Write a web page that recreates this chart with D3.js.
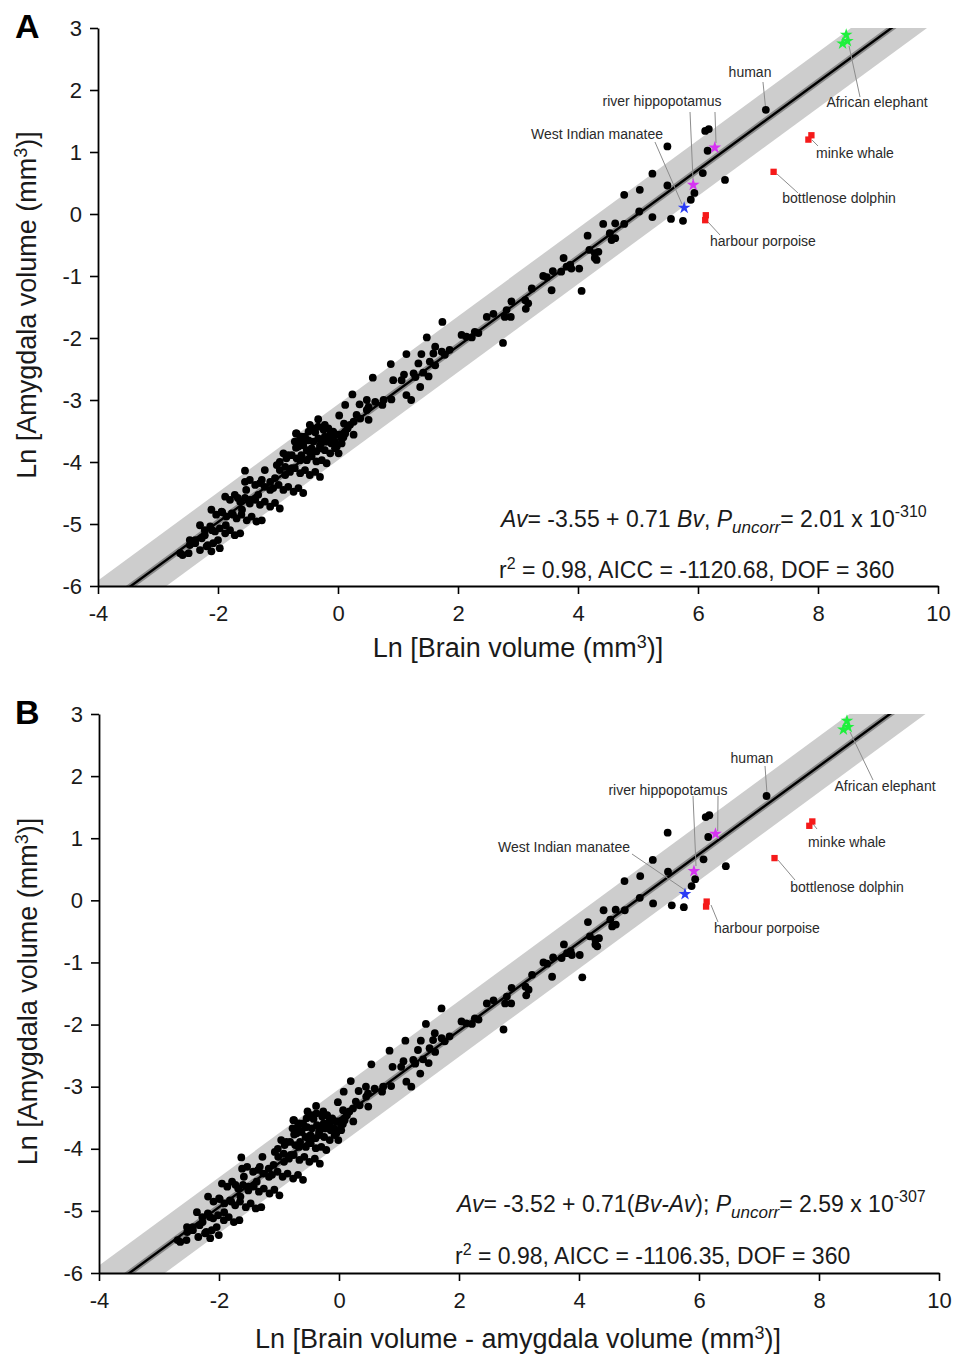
<!DOCTYPE html>
<html>
<head>
<meta charset="utf-8">
<script src="https://cdn.jsdelivr.net/npm/d3@7"></script>
<style>
  body { margin: 0; background: #fff; }
  text { font-family: "Liberation Sans", Arial, Helvetica, sans-serif; }
</style>
</head>
<body>
<div id="chart"></div>
<script>
// ln brain volume (Bv) and ln amygdala volume (Av), mm3, one entry per species
var brainLn = [
  7.13, 6.12, 6.18, 5.49, 6.16, 6.08, 6.45, 5.24, 5.49, 5.94, 5.88, 5.03, 4.77, 5.02, 5.24, 5.55, 5.75,
  4.42, 4.62, 4.77, 4.16, 4.53, 4.62, 4.56, 3.76, 4.19, 4.28, 4.34, 4.28, 4.31,
  4.06, 4.02, 3.87, 3.89, 3.81, 3.72, 3.56, 3.58, 3.42, 3.48, 3.23, 3.12, 3.17, 3.13,
  2.89, 2.81, 2.78, 2.88, 2.59, 2.48, 2.75, 1.74, 1.48, 2.06, 2.14, 2.23, 2.28, 2.34,
  1.62, 1.59, 1.73, 1.78, 1.86, 1.14, 1.39, 1.34, 1.53, 1.62, 1.51, 0.88, 1.10, 1.26, 1.29, 1.42,
  0.92, 1.06, 1.37, 0.58, 1.14, 1.22, 0.89, 0.76, 0.74, 0.48, 0.62, 0.24, 0.36, 0.51, 0.48, 0.12,
  0.02, 0.31, 0.37, 0.51, -0.33, 0.10, 0.20, 0.26, 0.16, 0.12, 0.26,
  -0.69, -0.61, -0.49, -0.22, -0.13, 0.03, 0.09, -0.63, -0.52, -0.27, -0.08,
  -0.47, -0.41, -0.33, -0.24, -0.16, -0.08, -0.02, 0.06, 0.12,
  -0.70, -0.63, -0.55, -0.49, -0.41, -0.33, -0.19, -0.11, -0.02, 0.06, -0.05,
  -0.72, -0.66, -0.58, -0.52, -0.44, -0.36, -0.30, -0.22, -0.13, -0.05, 0.01,
  -0.91, -0.86, -0.77, -0.69, -0.61, -0.52, -0.44, -0.36, -0.27, -0.19,
  -1.55, -1.02, -0.97, -0.88, -0.80, -0.72, -0.63, -0.55, -0.47, -0.38, -0.30,
  -1.55, -1.47, -1.38, -1.30, -1.22, -1.13, -1.08, -0.99, -0.91, -0.83, -0.74, -0.66, -0.58,
  -1.88, -1.80, -1.72, -1.63, -1.55, -1.47, -1.38, -1.30, -1.22, -1.13, -1.05, -0.97,
  -2.11, -2.03, -1.94, -1.86, -1.77, -1.69, -1.61, -1.52, -1.44, -1.36, -1.27, -1.63,
  -2.30, -2.22, -2.13, -2.05, -1.97, -1.88, -1.80, -1.72,
  -2.47, -2.38, -2.27, -2.19, -2.08, -1.97, -2.11, -2.59, -2.49,
  -2.63, -2.47, -2.30, -2.22, -2.10, -2.00, -1.87, -1.75, -1.60, -1.47, -1.33, -1.22, -1.13,
  -1.05, -0.88, -0.77, -0.63, -0.47, -0.30, -0.13, -0.22, -0.38, -0.70, -0.83, -0.97, -1.27,
  -1.53, -1.67, -1.93, -2.17, -2.38
];
var amygLn = [
  1.68, 1.34, 1.37, 1.09, 1.02, 0.66, 0.55, 0.65, 0.46, 0.34, 0.23, 0.39, 0.31, 0.04, -0.05, -0.08, -0.11,
  -0.16, -0.15, -0.16, -0.35, -0.31, -0.39, -0.42, -0.71, -0.58, -0.63, -0.61, -0.71, -0.74,
  -1.24, -0.88, -0.82, -0.88, -0.85, -0.93, -1.23, -0.92, -1.00, -1.02, -1.20, -1.39, -1.44, -1.53,
  -1.41, -1.55, -1.66, -1.66, -1.61, -1.66, -2.08, -1.74, -1.99, -1.95, -1.98, -1.99, -1.90, -1.92,
  -2.14, -2.25, -2.22, -2.27, -2.19, -2.26, -2.26, -2.41, -2.38, -2.44, -2.62, -2.42, -2.59, -2.57, -2.63, -2.56,
  -2.68, -2.68, -2.79, -2.64, -2.92, -3.00, -2.99, -3.00, -3.08, -3.00, -3.03, -2.91, -3.07, -3.11, -3.16, -3.08,
  -3.25, -3.24, -3.30, -3.32, -3.31, -3.38, -3.40, -3.35, -3.46, -3.51, -3.56,
  -3.54, -3.59, -3.51, -3.59, -3.56, -3.56, -3.60, -3.69, -3.65, -3.67, -3.70,
  -3.40, -3.46, -3.43, -3.48, -3.46, -3.51, -3.56, -3.62, -3.54,
  -3.54, -3.62, -3.59, -3.65, -3.67, -3.62, -3.67, -3.70, -3.75, -3.70, -3.67,
  -3.67, -3.75, -3.73, -3.81, -3.78, -3.83, -3.78, -3.81, -3.86, -3.78, -3.86,
  -3.86, -3.94, -3.89, -3.94, -3.89, -3.97, -3.91, -3.99, -3.97, -4.02,
  -4.14, -4.05, -4.13, -4.08, -4.16, -4.10, -4.18, -4.13, -4.21, -4.16, -4.24,
  -4.32, -4.29, -4.37, -4.34, -4.40, -4.32, -4.42, -4.37, -4.45, -4.40, -4.48, -4.42, -4.50,
  -4.56, -4.61, -4.53, -4.64, -4.58, -4.67, -4.61, -4.69, -4.64, -4.72, -4.66, -4.75,
  -4.77, -4.85, -4.80, -4.88, -4.83, -4.91, -4.85, -4.94, -4.88, -4.96, -4.94, -5.15,
  -5.02, -5.10, -5.04, -5.12, -5.07, -5.15, -5.10, -5.18,
  -5.26, -5.31, -5.23, -5.36, -5.31, -5.39, -5.44, -5.50, -5.47,
  -5.47, -5.34, -5.42, -5.18, -5.10, -5.26, -5.02, -4.85, -4.77, -4.61, -4.53, -4.13, -4.45,
  -4.26, -4.21, -4.10, -3.97, -3.84, -3.73, -3.61, -3.40, -3.52, -3.77, -3.89, -4.00, -4.29,
  -4.45, -4.58, -4.81, -5.34, -5.26
];

// highlighted species (stars = terrestrial/sirenian outliers checked, squares = cetaceans)
var specialSpecies = ["African elephant", "African elephant", "African elephant",
  "river hippopotamus", "river hippopotamus", "West Indian manatee",
  "minke whale", "minke whale", "bottlenose dolphin", "harbour porpoise", "harbour porpoise"];
var specialBrain = [8.47, 8.49, 8.41, 6.28, 5.92, 5.77, 7.89, 7.84, 7.26, 6.13, 6.12];
var specialAmyg  = [2.89, 2.79, 2.75, 1.07, 0.47, 0.10, 1.27, 1.20, 0.68, -0.02, -0.10];
var speciesColor = {
  "African elephant": "#1ef03c", "river hippopotamus": "#d633f2", "West Indian manatee": "#2a3cf5",
  "minke whale": "#f51a1a", "bottlenose dolphin": "#f51a1a", "harbour porpoise": "#f51a1a"
};
var speciesShape = {
  "African elephant": "star", "river hippopotamus": "star", "West Indian manatee": "star",
  "minke whale": "square", "bottlenose dolphin": "square", "harbour porpoise": "square"
};

var xTicks = [-4, -2, 0, 2, 4, 6, 8, 10];
var yTicks = [3, 2, 1, 0, -1, -2, -3, -4, -5, -6];

// regression fits (intercept, slope) and interval half widths in ln units
var fitIntercept = [-3.55, -3.52];
var fitSlope = [0.71, 0.71];
var bandAbove = 0.48, bandBelow = 0.42, ciHalf = 0.06;

// label text, label position and leader lines, in data units, per panel
var labelsA = [
  { t: "human", x: 6.867, y: 2.21, lines: [[7.083, 2.129, 7.125, 1.726]] },
  { t: "African elephant", x: 8.983, y: 1.726, lines: [[8.70, 1.887, 8.517, 2.71]] },
  { t: "river hippopotamus", x: 5.40, y: 1.742, lines: [[5.867, 1.645, 5.917, 0.548], [6.283, 1.645, 6.30, 1.145]] },
  { t: "West Indian manatee", x: 4.317, y: 1.21, lines: [[5.283, 1.161, 5.733, 0.161]] },
  { t: "minke whale", x: 8.617, y: 0.903, lines: [[8.0, 1.097, 7.90, 1.194]] },
  { t: "bottlenose dolphin", x: 8.35, y: 0.177, lines: [[7.667, 0.339, 7.317, 0.645]] },
  { t: "harbour porpoise", x: 7.083, y: -0.516, lines: [[6.367, -0.339, 6.167, -0.129]] }
];
var labelsB = [
  { t: "human", x: 6.883, y: 2.211, lines: [[7.10, 2.163, 7.133, 1.728]] },
  { t: "African elephant", x: 9.10, y: 1.76, lines: [[8.90, 1.937, 8.517, 2.71]] },
  { t: "river hippopotamus", x: 5.483, y: 1.696, lines: [[5.90, 1.68, 5.95, 0.552], [6.317, 1.68, 6.312, 1.116]] },
  { t: "West Indian manatee", x: 3.75, y: 0.778, lines: [[4.883, 0.746, 5.767, 0.166]] },
  { t: "minke whale", x: 8.467, y: 0.858, lines: [[7.967, 1.148, 7.90, 1.229]] },
  { t: "bottlenose dolphin", x: 8.467, y: 0.134, lines: [[7.60, 0.327, 7.317, 0.649]] },
  { t: "harbour porpoise", x: 7.133, y: -0.527, lines: [[6.317, -0.35, 6.20, -0.075]] }
];

var W = 955, H = 1355;
var svg = d3.select("#chart").append("svg")
  .attr("width", W).attr("height", H);

// panel B plots ln(brain - amygdala)
function restOfBrain(bv, av) { return Math.log(Math.exp(bv) - Math.exp(av)); }

var panels = [
  { key: "A", left: 98, top: 28, w: 840, h: 558, labels: labelsA, xFn: function(bv, av) { return bv; },
    xTitle: ["Ln [Brain volume (mm", ")]"], stats: ["-1120.68"], fit: 0,
    eq: [["Av", 1], ["= -3.55 + 0.71 ", 0], ["Bv", 1], [", ", 0]], p: ["2.01", "-310"],
    eqX: 403, eqY: 499, r2Y: 550, xTitleX: 420, xTitleY: 71 },
  { key: "B", left: 99, top: 714, w: 840, h: 559, labels: labelsB, xFn: restOfBrain,
    xTitle: ["Ln [Brain volume - amygdala volume (mm", ")]"], stats: ["-1106.35"], fit: 1,
    eq: [["Av", 1], ["= -3.52 + 0.71(", 0], ["Bv-Av", 1], ["); ", 0]], p: ["2.59", "-307"],
    eqX: 358, eqY: 498, r2Y: 550, xTitleX: 419, xTitleY: 75 }
];

panels.forEach(function(P, pi) {
  var g = svg.append("g").attr("transform", "translate(" + P.left + "," + P.top + ")");
  var x = d3.scaleLinear().domain([-4, 10]).range([0, P.w]);
  var y = d3.scaleLinear().domain([-6, 3]).range([P.h, 0]);
  var a = fitIntercept[P.fit], b = fitSlope[P.fit];

  var clipId = "clip" + P.key;
  g.append("clipPath").attr("id", clipId)
    .append("rect").attr("width", P.w).attr("height", P.h);

  var fitG = g.append("g").attr("clip-path", "url(#" + clipId + ")");
  var xs = [-5, 11];
  function band(up, down) {
    var pts = xs.map(function(v) { return [x(v), y(a + b * v + up)]; });
    xs.slice().reverse().forEach(function(v) { pts.push([x(v), y(a + b * v - down)]); });
    return "M" + pts.join("L") + "Z";
  }
  fitG.append("path").attr("d", band(bandAbove, bandBelow)).attr("fill", "#cdcdcd");
  fitG.append("path").attr("d", band(ciHalf, ciHalf)).attr("fill", "#8a8a8a");
  fitG.append("line")
    .attr("x1", x(xs[0])).attr("y1", y(a + b * xs[0]))
    .attr("x2", x(xs[1])).attr("y2", y(a + b * xs[1]))
    .attr("stroke", "#000").attr("stroke-width", 2.4);

  // axes
  var xAxis = g.append("g").attr("transform", "translate(0," + P.h + ")")
    .call(d3.axisBottom(x).tickValues(xTicks).tickSize(8).tickPadding(11).tickSizeOuter(0)
      .tickFormat(function(d) { return String(d); }));
  var yAxis = g.append("g")
    .call(d3.axisLeft(y).tickValues(yTicks).tickSize(8).tickPadding(8).tickSizeOuter(0)
      .tickFormat(function(d) { return String(d); }));
  [xAxis, yAxis].forEach(function(ax) {
    ax.select(".domain").attr("stroke", "#000").attr("stroke-width", 1.8);
    ax.selectAll(".tick line").attr("stroke", "#000").attr("stroke-width", 1.6);
    ax.selectAll(".tick text").attr("font-size", 22).attr("fill", "#1a1a1a")
      .attr("font-family", "Liberation Sans, Arial, sans-serif");
  });

  // leader lines
  P.labels.forEach(function(L) {
    L.lines.forEach(function(s) {
      g.append("line")
        .attr("x1", x(s[0])).attr("y1", y(s[1])).attr("x2", x(s[2])).attr("y2", y(s[3]))
        .attr("stroke", "#8c8c8c").attr("stroke-width", 1);
    });
  });

  // species points
  g.append("g").selectAll("circle")
    .data(d3.range(brainLn.length))
    .enter().append("circle")
    .attr("cx", function(i) { return x(P.xFn(brainLn[i], amygLn[i])); })
    .attr("cy", function(i) { return y(amygLn[i]); })
    .attr("r", 3.9)
    .attr("fill", "#000");

  var star = d3.symbol().type(d3.symbolStar).size(50);
  var square = d3.symbol().type(d3.symbolSquare).size(40);
  g.append("g").selectAll("path")
    .data(d3.range(specialSpecies.length))
    .enter().append("path")
    .attr("transform", function(i) {
      return "translate(" + x(P.xFn(specialBrain[i], specialAmyg[i])) + "," + y(specialAmyg[i]) + ")";
    })
    .attr("d", function(i) { return speciesShape[specialSpecies[i]] == "star" ? star() : square(); })
    .attr("fill", function(i) { return speciesColor[specialSpecies[i]]; });

  // labels
  P.labels.forEach(function(L) {
    g.append("text").attr("x", x(L.x)).attr("y", y(L.y))
      .attr("text-anchor", "middle").attr("font-size", 14).attr("fill", "#2a2a2a")
      .text(L.t);
  });

  // equation
  var eq = g.append("text").attr("x", P.eqX).attr("y", P.eqY)
    .attr("font-size", 23).attr("fill", "#1a1a1a");
  P.eq.forEach(function(e) {
    eq.append("tspan").attr("font-style", e[1] ? "italic" : "normal").text(e[0]);
  });
  eq.append("tspan").attr("font-style", "italic").text("P");
  eq.append("tspan").attr("font-style", "italic").attr("font-size", 17).attr("dy", 6).text("uncorr");
  eq.append("tspan").attr("dy", -6).text("= " + P.p[0] + " x 10");
  eq.append("tspan").attr("font-size", 16).attr("dy", -10).text(P.p[1]);

  var r2 = g.append("text").attr("x", P.eqX - 2).attr("y", P.r2Y)
    .attr("font-size", 23).attr("fill", "#1a1a1a");
  r2.append("tspan").text("r");
  r2.append("tspan").attr("font-size", 16).attr("dy", -9).text("2");
  r2.append("tspan").attr("dy", 9).text(" = 0.98, AICC = " + P.stats[0] + ", DOF = 360");

  // axis titles
  var xt = g.append("text").attr("x", P.xTitleX).attr("y", P.h + P.xTitleY)
    .attr("text-anchor", "middle").attr("font-size", 27).attr("fill", "#1a1a1a");
  xt.append("tspan").text(P.xTitle[0]);
  xt.append("tspan").attr("font-size", 18).attr("dy", -9).text("3");
  xt.append("tspan").attr("dy", 9).text(P.xTitle[1]);

  var yt = g.append("text")
    .attr("transform", "translate(" + (-62) + "," + (P.h / 2 - 2) + ") rotate(-90)")
    .attr("text-anchor", "middle").attr("font-size", 27).attr("fill", "#1a1a1a");
  yt.append("tspan").text("Ln [Amygdala volume (mm");
  yt.append("tspan").attr("font-size", 18).attr("dy", -9).text("3");
  yt.append("tspan").attr("dy", 9).text(")]");

  // panel letter
  svg.append("text").attr("x", 15).attr("y", P.top + 10)
    .attr("font-size", 34).attr("font-weight", "bold").attr("fill", "#000")
    .text(P.key);
});
</script>
</body>
</html>
